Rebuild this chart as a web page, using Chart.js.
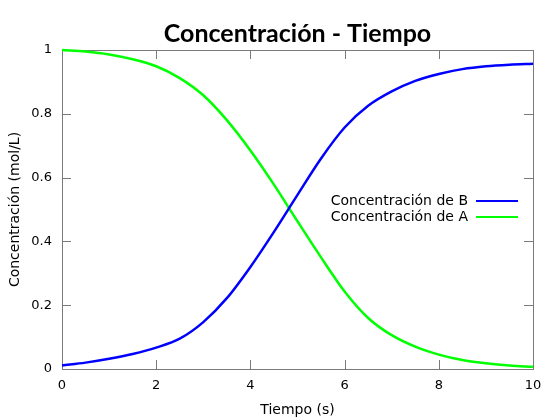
<!DOCTYPE html>
<html>
<head>
<meta charset="utf-8">
<script src="https://cdn.jsdelivr.net/npm/chart.js@4.4.1/dist/chart.umd.min.js"></script>
<style>
  html, body { margin: 0; padding: 0; background: #fff; }
</style>
</head>
<body>
<canvas id="grafico" width="560" height="420"></canvas>
<script>
// datos
const tiempo = [0, 0.5, 1, 1.5, 2, 2.5, 3, 3.5, 4, 4.5, 5, 5.5, 6, 6.5, 7, 7.5, 8, 8.5, 9, 9.5, 10];
const concB = [0.011, 0.02, 0.032, 0.047, 0.067, 0.095, 0.147, 0.222, 0.32, 0.43, 0.546, 0.66, 0.757, 0.825, 0.87, 0.903, 0.925, 0.94, 0.949, 0.954, 0.957];
const concA = [1.0, 0.995, 0.986, 0.971, 0.949, 0.912, 0.858, 0.78, 0.685, 0.578, 0.463, 0.35, 0.243, 0.16, 0.106, 0.07, 0.045, 0.028, 0.018, 0.011, 0.007];
const ticksX = [0, 2, 4, 6, 8, 10];
const ticksY = [0, 0.2, 0.4, 0.6, 0.8, 1];

const fuente = 'DejaVu Sans';
const colorBorde = '#7a7a7a';

function puntos(ys) {
  return tiempo.map((t, i) => ({ x: t, y: ys[i] }));
}

// borde completo y marcas hacia dentro (rectangulos de 1px)
function dibujarBorde(chart) {
  const ctx = chart.ctx;
  const a = chart.chartArea;
  const sx = chart.scales.x, sy = chart.scales.y;
  const largo = 9;
  const l = Math.round(a.left), r = Math.round(a.right);
  const arriba = Math.round(a.top), abajo = Math.round(a.bottom);
  ctx.save();
  ctx.fillStyle = colorBorde;
  ctx.fillRect(l, arriba, r - l + 1, 1);
  ctx.fillRect(l, abajo, r - l + 1, 1);
  ctx.fillRect(l, arriba, 1, abajo - arriba + 1);
  ctx.fillRect(r, arriba, 1, abajo - arriba + 1);
  for (const v of ticksX) {
    const px = Math.round(sx.getPixelForValue(v));
    ctx.fillRect(px, abajo - largo, 1, largo);
    ctx.fillRect(px, arriba, 1, largo);
  }
  for (const v of ticksY) {
    const py = Math.round(sy.getPixelForValue(v));
    ctx.fillRect(l, py, largo, 1);
    ctx.fillRect(r - largo, py, largo, 1);
  }
  ctx.restore();
}

const estiloGnuplot = {
  id: 'estiloGnuplot',
  beforeDatasetsDraw(chart) {
    dibujarBorde(chart);
  },
  afterDatasetsDraw(chart) {
    const ctx = chart.ctx;
    const finTexto = 468, x0 = 476, x1 = 518;
    let y = 201;
    ctx.save();
    ctx.font = '14px "' + fuente + '"';
    ctx.textAlign = 'right';
    ctx.textBaseline = 'middle';
    chart.data.datasets.forEach(ds => {
      ctx.fillStyle = '#000';
      ctx.fillText(ds.label, finTexto, y);
      ctx.strokeStyle = ds.borderColor;
      ctx.lineWidth = 2;
      ctx.beginPath();
      ctx.moveTo(x0, y); ctx.lineTo(x1, y);
      ctx.stroke();
      y += 16;
    });
    ctx.restore();
  }
};

new Chart(document.getElementById('grafico').getContext('2d'), {
  type: 'line',
  data: {
    datasets: [
      {
        label: 'Concentración de B',
        data: puntos(concB),
        borderColor: '#0000ff',
        borderWidth: 2.5,
        pointRadius: 0,
        cubicInterpolationMode: 'monotone',
        clip: 4
      },
      {
        label: 'Concentración de A',
        data: puntos(concA),
        borderColor: '#00ff00',
        borderWidth: 2.5,
        pointRadius: 0,
        cubicInterpolationMode: 'monotone',
        clip: 4
      }
    ]
  },
  options: {
    responsive: false,
    animation: false,
    devicePixelRatio: 1,
    layout: { padding: { left: 0, right: 27, top: 0, bottom: 0 } },
    plugins: {
      legend: { display: false },
      tooltip: { enabled: false },
      title: {
        display: true,
        fullSize: false,
        text: 'Concentración - Tiempo',
        color: '#000',
        font: { family: 'Lato', size: 25, weight: 'bold' },
        padding: { top: 19, bottom: 1 }
      }
    },
    scales: {
      x: {
        type: 'linear',
        min: 0,
        max: 10,
        afterFit(scale) { scale.height = 51; },
        afterBuildTicks(scale) { scale.ticks = ticksX.map(v => ({ value: v })); },
        grid: { display: false, drawTicks: false },
        border: { display: false },
        ticks: {
          padding: 9,
          color: '#000',
          font: { family: fuente, size: 13 },
          maxRotation: 0,
          callback: v => String(v)
        },
        title: {
          display: true,
          text: 'Tiempo (s)',
          color: '#000',
          font: { family: fuente, size: 14 },
          padding: { top: 0, bottom: 1 }
        }
      },
      y: {
        min: 0,
        max: 1,
        afterFit(scale) { scale.width = 62; },
        afterBuildTicks(scale) { scale.ticks = ticksY.map(v => ({ value: v })); },
        grid: { display: false, drawTicks: false },
        border: { display: false },
        ticks: {
          padding: 10,
          color: '#000',
          font: { family: fuente, size: 13 },
          callback: v => String(Math.round(v * 10) / 10)
        },
        title: {
          display: true,
          text: 'Concentración (mol/L)',
          color: '#000',
          font: { family: fuente, size: 14 },
          padding: { top: 7, bottom: 0 }
        }
      }
    }
  },
  plugins: [estiloGnuplot]
});
</script>
</body>
</html>
